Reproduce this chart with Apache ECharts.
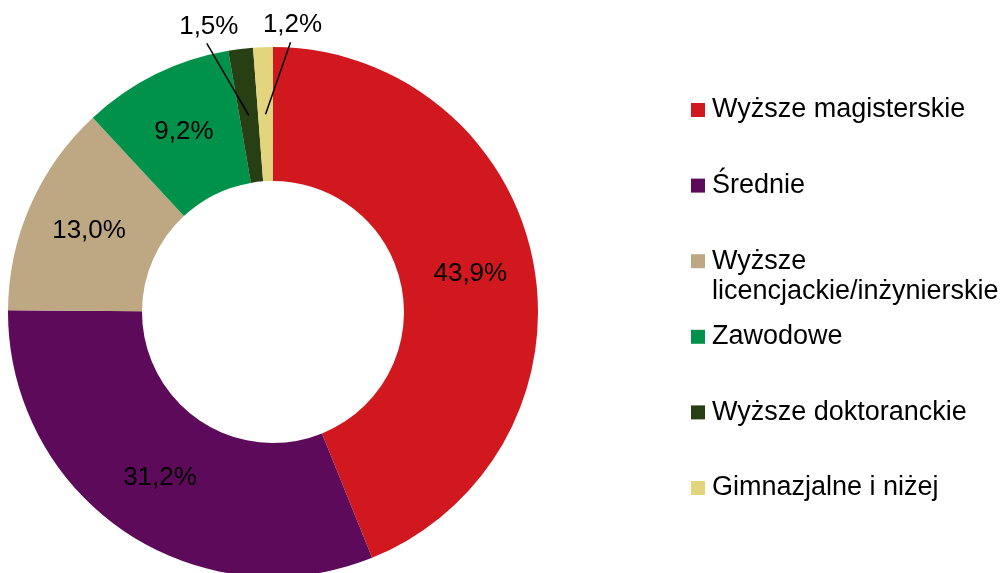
<!DOCTYPE html>
<html>
<head>
<meta charset="utf-8">
<script src="https://cdn.jsdelivr.net/npm/echarts@6/dist/echarts.min.js"></script>
<style>
html,body{margin:0;padding:0;background:#fff;}
#chart{width:1002px;height:573px;}
</style>
</head>
<body>
<div id="chart"></div>
<script>
// ---- data ----
var categories = ['Wyższe magisterskie', 'Średnie', 'Wyższe licencjackie/inżynierskie', 'Zawodowe', 'Wyższe doktoranckie', 'Gimnazjalne i niżej'];
var shares = [43.9, 31.2, 13.0, 9.2, 1.5, 1.2];
var colors = ['#D2181F', '#5C0A59', '#BEA883', '#00924A', '#283F14', '#E3D47E'];
var calloutIdx = [4, 5];

// ---- geometry / style ----
var CX = 273, CY = 312, R0 = 131, R1 = 265;
var FONT = '"Liberation Sans", Arial, sans-serif';
var calloutDx = {4: -40, 5: 27};
var calloutDy = -89;

var total = shares.reduce(function (a, b) { return a + b; }, 0);
function midPoint(i, r) {
  var cum = 0;
  for (var k = 0; k < i; k++) cum += shares[k];
  var frac = (cum + shares[i] / 2) / total;
  var th = frac * 2 * Math.PI;
  return [CX + r * Math.sin(th), CY - r * Math.cos(th)];
}
function fmt(v) { return v.toFixed(1).replace('.', ',') + '%'; }

var chart = echarts.init(document.getElementById('chart'), null, {renderer: 'canvas'});

// main ring
var ringData = categories.map(function (name, i) {
  var d = {name: name, value: shares[i], itemStyle: {color: colors[i]}};
  if (calloutIdx.indexOf(i) >= 0) d.label = {show: false};
  return d;
});

// transparent overlay carrying the call-out labels so leader lines sit above the ring
var calloutData = categories.map(function (name, i) {
  var d = {name: name, value: shares[i]};
  if (calloutIdx.indexOf(i) >= 0) {
    d.label = {show: true, position: 'outside'};
    d.labelLine = {show: true, length: 10, length2: 10, lineStyle: {color: '#000', width: 1.5}};
  }
  return d;
});

var legendData = categories.map(function (name) {
  if (name.indexOf('licencjackie') >= 0) {
    return {name: name, textStyle: {padding: [30, 0, 0, 2]}};
  }
  return {name: name};
});

var labelFont = {color: '#000', fontSize: 26, fontFamily: FONT, formatter: function (p) { return fmt(p.value); }};

chart.setOption({
  animation: false,
  backgroundColor: '#fff',
  legend: {
    orient: 'vertical',
    left: 691,
    top: 65,
    padding: 0,
    itemGap: -14.4,
    itemWidth: 14,
    itemHeight: 14,
    icon: 'rect',
    selectedMode: false,
    data: legendData,
    formatter: function (name) {
      return name.replace('Wyższe licencjackie', 'Wyższe\nlicencjackie')
        .split('\n').map(function (s) { return '{t|' + s + '}'; }).join('\n');
    },
    textStyle: {
      color: '#000', fontSize: 27, fontFamily: FONT, lineHeight: 30, padding: [30, 0, 30, 2],
      rich: {t: {color: '#000', fontSize: 27, fontFamily: FONT, lineHeight: 30}}
    }
  },
  series: [{
    type: 'pie',
    z: 2,
    center: [CX, CY],
    radius: [R0, R1],
    startAngle: 90,
    clockwise: true,
    avoidLabelOverlap: false,
    silent: true,
    itemStyle: {borderWidth: 0},
    label: Object.assign({show: true, position: 'inside'}, labelFont),
    labelLine: {show: false},
    data: ringData
  }, {
    type: 'pie',
    z: 5,
    center: [CX, CY],
    radius: [R0, R1],
    startAngle: 90,
    clockwise: true,
    avoidLabelOverlap: false,
    silent: true,
    itemStyle: {color: 'rgba(0,0,0,0)', borderWidth: 0},
    label: Object.assign({show: false}, labelFont),
    labelLine: {show: false},
    labelLayout: function (p) {
      var i = p.dataIndex;
      if (calloutIdx.indexOf(i) < 0) return {};
      var s = midPoint(i, (R0 + R1) / 2);
      var lx = s[0] + calloutDx[i];
      var ly = s[1] + calloutDy;
      return {
        x: lx, y: ly, align: 'center', verticalAlign: 'middle',
        labelLinePoints: [[s[0], s[1]], [lx - 2, ly + 17]]
      };
    },
    data: calloutData
  }]
});
</script>
</body>
</html>
